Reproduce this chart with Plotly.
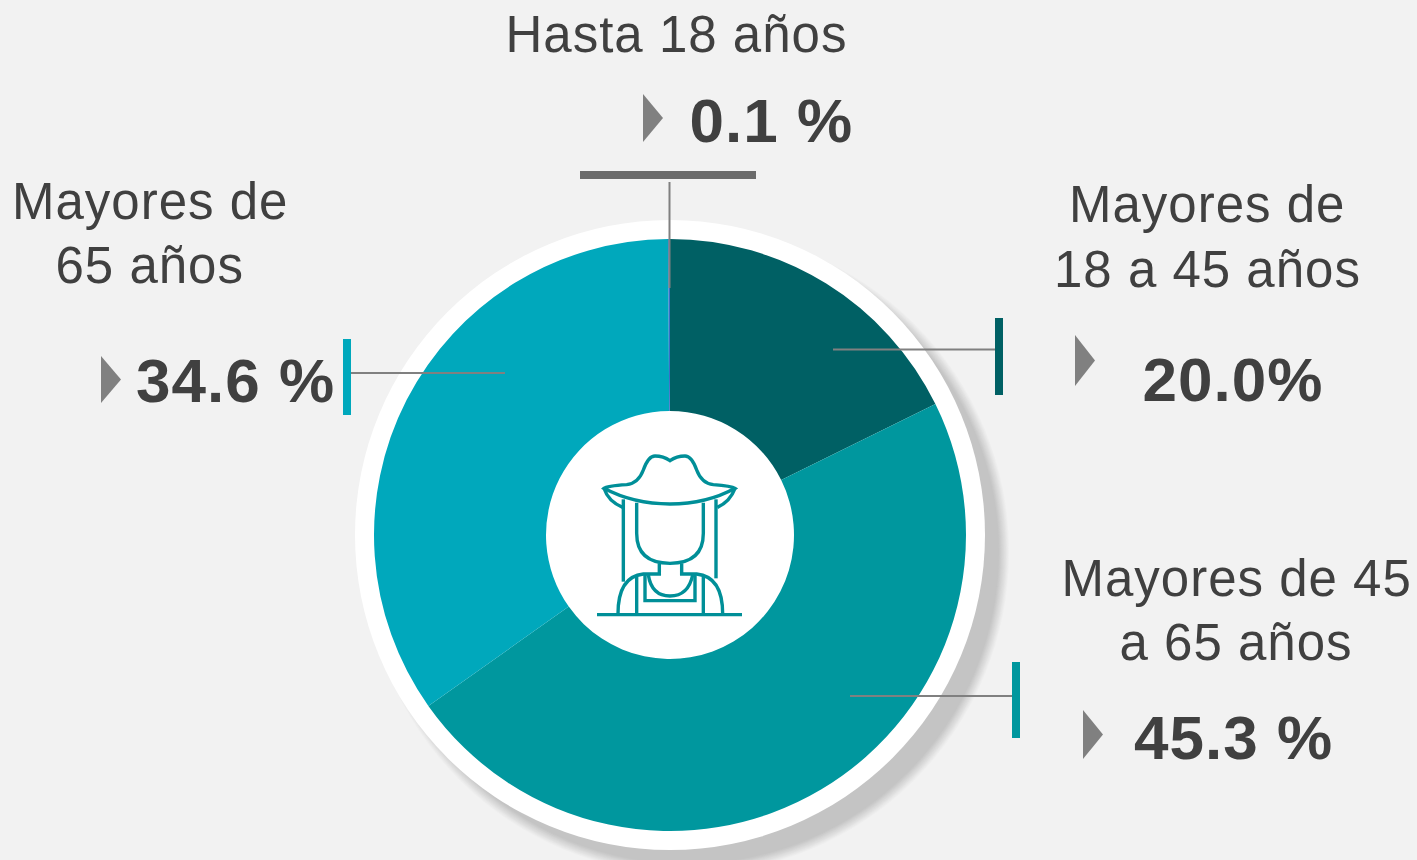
import plotly.graph_objects as go

W, H = 1417, 860
categories = ["Mayores de 18 a 45 años", "Mayores de 45 a 65 años", "Mayores de 65 años", "Hasta 18 años"]
slice_values = [17.7, 47.5, 34.7, 0.1]
slice_colors = ["#006064", "#00979E", "#00A8BC", "#3A6FC8"]
label_hasta = ["Hasta 18 años"]
label_65 = ["Mayores de", "65 años"]
label_18 = ["Mayores de", "18 a 45 años"]
label_45 = ["Mayores de 45", "a 65 años"]
value_labels = ["0.1 %", "34.6 %", "20.0%", "45.3 %"]

TEXT = "#404040"
FONT = "Liberation Sans"
CX, CY, R, RING, HOLE = 670, 535, 296, 315, 124


def px(x):
    return x / W


def py(y):
    return 1 - y / H


def circle(cx, cy, r, color):
    return dict(type="circle", xref="paper", yref="paper", x0=px(cx - r), x1=px(cx + r),
                y0=py(cy + r), y1=py(cy - r), fillcolor=color, line_width=0, layer="below")


def rect(x0, y0, x1, y1, color):
    return dict(type="rect", xref="paper", yref="paper", x0=px(x0), x1=px(x1),
                y0=py(y1), y1=py(y0), fillcolor=color, line_width=0, layer="above")


def line(x0, y0, x1, y1):
    return dict(type="line", xref="paper", yref="paper", x0=px(x0), x1=px(x1),
                y0=py(y0), y1=py(y1), line=dict(color="#808080", width=2), layer="above")


def tri(x, y0, y1, w):
    d = f"M{px(x)},{py(y0)} L{px(x + w)},{py((y0 + y1) / 2)} L{px(x)},{py(y1)} Z"
    return dict(type="path", xref="paper", yref="paper", path=d, fillcolor="#808080", line_width=0, layer="above")


def icon(path):
    # path is written in a local grid of thirds of a pixel, origin at (540, 410)
    out = []
    for t in path.split():
        cmd = t[0] if t[0].isalpha() else ""
        body = t[1:] if cmd else t
        if body:
            a, b = body.split(",")
            out.append(f"{cmd}{px(540 + float(a) / 3):.5f},{py(410 + float(b) / 3):.5f}")
        else:
            out.append(cmd)
    return dict(type="path", xref="paper", yref="paper", path=" ".join(out),
                line=dict(color="#008F98", width=3.4), fillcolor="rgba(0,0,0,0)", layer="above")


shapes = []
# soft drop shadow: concentric discs from background grey to shadow grey
for i in range(11):
    v = round(0xEE + (0xC4 - 0xEE) * i / 10)
    shapes.append(circle(CX + 17, CY + 17, RING + 7 - i, f"rgb({v},{v},{v})"))
shapes.append(circle(CX, CY, RING, "#FFFFFF"))
shapes.append(circle(CX, CY, HOLE, "#FFFFFF"))

shapes += [
    line(669.5, 182, 669.5, 288), line(833, 349.5, 995, 349.5), line(850, 696, 1012, 696), line(351, 373, 505, 373),
    rect(580, 171, 756, 179, "#6B6B6B"), rect(995, 318, 1003, 395, "#006064"),
    rect(1012, 662, 1020, 738, "#00979E"), rect(343, 339, 351, 415, "#00A8BC"),
    tri(643, 94, 142, 20), tri(101, 356, 403, 20), tri(1075, 335, 386, 20), tri(1083, 710, 759, 20),
]

icon_paths = [
    "M192,235 Q200,228 260,224 Q295,220 310,180 Q325,138 345,138 Q370,138 390,152 Q410,138 435,138 Q455,138 470,180 Q485,220 520,224 Q575,228 585,235 Q500,282 390,282 Q280,282 192,235 Z",
    "M192,235 Q205,275 248,292",
    "M585,235 Q570,275 532,292",
    "M250,268 L250,515",
    "M528,268 L528,505",
    "M290,278 L290,370 Q290,460 390,460 Q490,460 490,370 L490,278",
    "M358,460 L358,492 L310,492 Q234,500 234,612",
    "M425,460 L425,492 L470,492 Q548,500 548,612",
    "M290,500 L290,612",
    "M490,500 L490,612",
    "M315,495 L315,572 L465,572 L465,495",
    "M325,495 Q335,558 390,558 Q445,558 458,495",
    "M171,614 L606,614",
]
shapes += [icon(p) for p in icon_paths]


def text(s, x, y, size, bold=False):
    return dict(text=f"<b>{s}</b>" if bold else s, xref="paper", yref="paper", x=px(x), y=py(y),
                xanchor="center", yanchor="middle", showarrow=False,
                font=dict(family=FONT, size=size, color=TEXT))


annotations = [text(label_hasta[0], 676, 35, 51)]
annotations += [text(s, 150, y, 51) for s, y in zip(label_65, [201, 265])]
annotations += [text(s, 1207, y, 51) for s, y in zip(label_18, [205, 269])]
annotations += [text(s, 1236, y, 51) for s, y in zip(label_45, [578, 642])]
annotations += [text(s, x, y, 62, True) for s, x, y in zip(value_labels, [771, 235, 1233, 1233], [121, 380, 379, 737])]

fig = go.Figure(go.Pie(
    labels=categories, values=slice_values, sort=False, direction="clockwise", rotation=0,
    hole=HOLE / R, marker=dict(colors=slice_colors, line=dict(width=0)),
    textinfo="none", hoverinfo="label+percent", showlegend=False,
    domain=dict(x=[px(CX - R), px(CX + R)], y=[py(CY + R), py(CY - R)]),
))
fig.update_layout(width=W, height=H, margin=dict(l=0, r=0, t=0, b=0), paper_bgcolor="#F2F2F2",
                  shapes=shapes, annotations=annotations)
post = ("document.body.style.margin='0';"
        "var s=document.createElement('style');"
        "s.textContent='.annotation-text{letter-spacing:1px}';"
        "document.head.appendChild(s);")
fig.write_html("out.html", post_script=post, config=dict(displayModeBar=False))
